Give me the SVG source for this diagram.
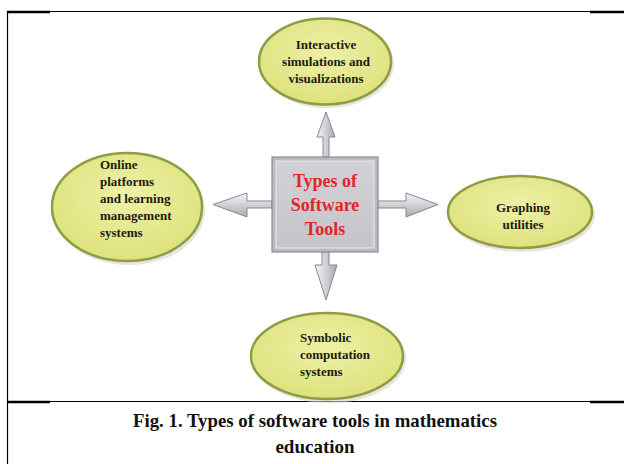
<svg xmlns="http://www.w3.org/2000/svg" width="624" height="464" viewBox="0 0 624 464">
<defs>
<radialGradient id="ell" cx="50%" cy="40%" r="60%">
<stop offset="0" stop-color="#eef0a6"/>
<stop offset="1" stop-color="#dde27c"/>
</radialGradient>
<linearGradient id="arrV" x1="0" y1="0" x2="1" y2="0">
<stop offset="0" stop-color="#f6f6f8"/>
<stop offset="1" stop-color="#a9a9b2"/>
</linearGradient>
<linearGradient id="arrH" x1="0" y1="0" x2="0" y2="1">
<stop offset="0" stop-color="#f6f6f8"/>
<stop offset="1" stop-color="#a9a9b2"/>
</linearGradient>
<linearGradient id="boxg" x1="0" y1="0" x2="0" y2="1">
<stop offset="0" stop-color="#d2d2d6"/>
<stop offset="1" stop-color="#c4c4c9"/>
</linearGradient>
</defs>
<style>
.ell{fill:url(#ell);stroke:#8f9c46;stroke-width:2.5}
.shadow{fill:#d6d6c8;opacity:0.6}
.lbl{font-family:"Liberation Serif","Times New Roman",serif;font-weight:bold;font-size:13px;fill:#1c1c10}
.mid{text-anchor:middle}
.title{font-family:"Liberation Serif","Times New Roman",serif;font-weight:bold;font-size:18px;fill:#e0262b;text-anchor:middle}
.cap{font-family:"Liberation Serif","Times New Roman",serif;font-weight:bold;font-size:19px;fill:#111;text-anchor:middle}
.arrV{fill:url(#arrV);stroke:#878792;stroke-width:1}
.arrH{fill:url(#arrH);stroke:#878792;stroke-width:1}
.thick{stroke:#000;stroke-width:2.5}
.thin{stroke:#000;stroke-width:1.2}
</style>
<rect width="624" height="464" fill="#fff"/>
<g id="frame">
<line class="thick" x1="7" y1="12" x2="50" y2="12"/>
<line class="thin" x1="50" y1="11.5" x2="590" y2="11.5"/>
<line class="thick" x1="590" y1="12" x2="624" y2="12"/>
<line class="thin" x1="7.5" y1="11" x2="7.5" y2="464"/>
<line class="thick" x1="7" y1="402" x2="50" y2="402"/>
<line class="thin" x1="50" y1="401.5" x2="590" y2="401.5"/>
<line class="thick" x1="590" y1="402" x2="624" y2="402"/>
</g>
<g id="connectors">
<path class="arrV" d="M323,157 L323,137 L317,137 L326,112 L335,137 L329,137 L329,157 Z"/>
<path class="arrV" d="M322,252 L322,265 L315,265 L326,300 L337,265 L329,265 L329,252 Z"/>
<path class="arrH" d="M272,201 L247,201 L247,193 L213,204.5 L247,217 L247,208 L272,208 Z"/>
<path class="arrH" d="M378,201 L406,201 L406,193 L438,204.5 L406,217 L406,208 L378,208 Z"/>
</g>
<g id="center">
<rect x="272" y="157" width="106" height="95" fill="#b9b9bf" stroke="#8e8e97" stroke-width="1.2"/>
<rect x="276" y="161" width="98" height="87" fill="url(#boxg)" stroke="#e4e4e8" stroke-width="1.2"/>
<text class="title" x="325" y="187">Types of</text>
<text class="title" x="325" y="211">Software</text>
<text class="title" x="325" y="235">Tools</text>
</g>
<g id="n-interactive">
<ellipse class="shadow" cx="327" cy="64" rx="67" ry="44"/>
<ellipse class="ell" cx="325" cy="61.5" rx="66" ry="43"/>
<text class="lbl mid" x="326" y="49">Interactive</text>
<text class="lbl mid" x="326" y="66">simulations and</text>
<text class="lbl mid" x="326" y="83">visualizations</text>
</g>
<g id="n-online">
<ellipse class="shadow" cx="129" cy="210" rx="76" ry="55"/>
<ellipse class="ell" cx="127" cy="207" rx="75" ry="54"/>
<text class="lbl" x="100" y="169">Online</text>
<text class="lbl" x="100" y="186">platforms</text>
<text class="lbl" x="100" y="203">and learning</text>
<text class="lbl" x="100" y="220">management</text>
<text class="lbl" x="100" y="237">systems</text>
</g>
<g id="n-graphing">
<ellipse class="shadow" cx="522" cy="215" rx="73" ry="37"/>
<ellipse class="ell" cx="520" cy="212" rx="72" ry="36"/>
<text class="lbl mid" x="523" y="212">Graphing</text>
<text class="lbl mid" x="523" y="229">utilities</text>
</g>
<g id="n-symbolic">
<ellipse class="shadow" cx="329" cy="359" rx="77" ry="44"/>
<ellipse class="ell" cx="327" cy="356" rx="76" ry="43"/>
<text class="lbl" x="300" y="342">Symbolic</text>
<text class="lbl" x="300" y="359">computation</text>
<text class="lbl" x="300" y="376">systems</text>
</g>
<g id="caption">
<text class="cap" x="315" y="427" textLength="364" lengthAdjust="spacingAndGlyphs">Fig. 1. Types of software tools in mathematics</text>
<text class="cap" x="315" y="453">education</text>
</g>
</svg>
